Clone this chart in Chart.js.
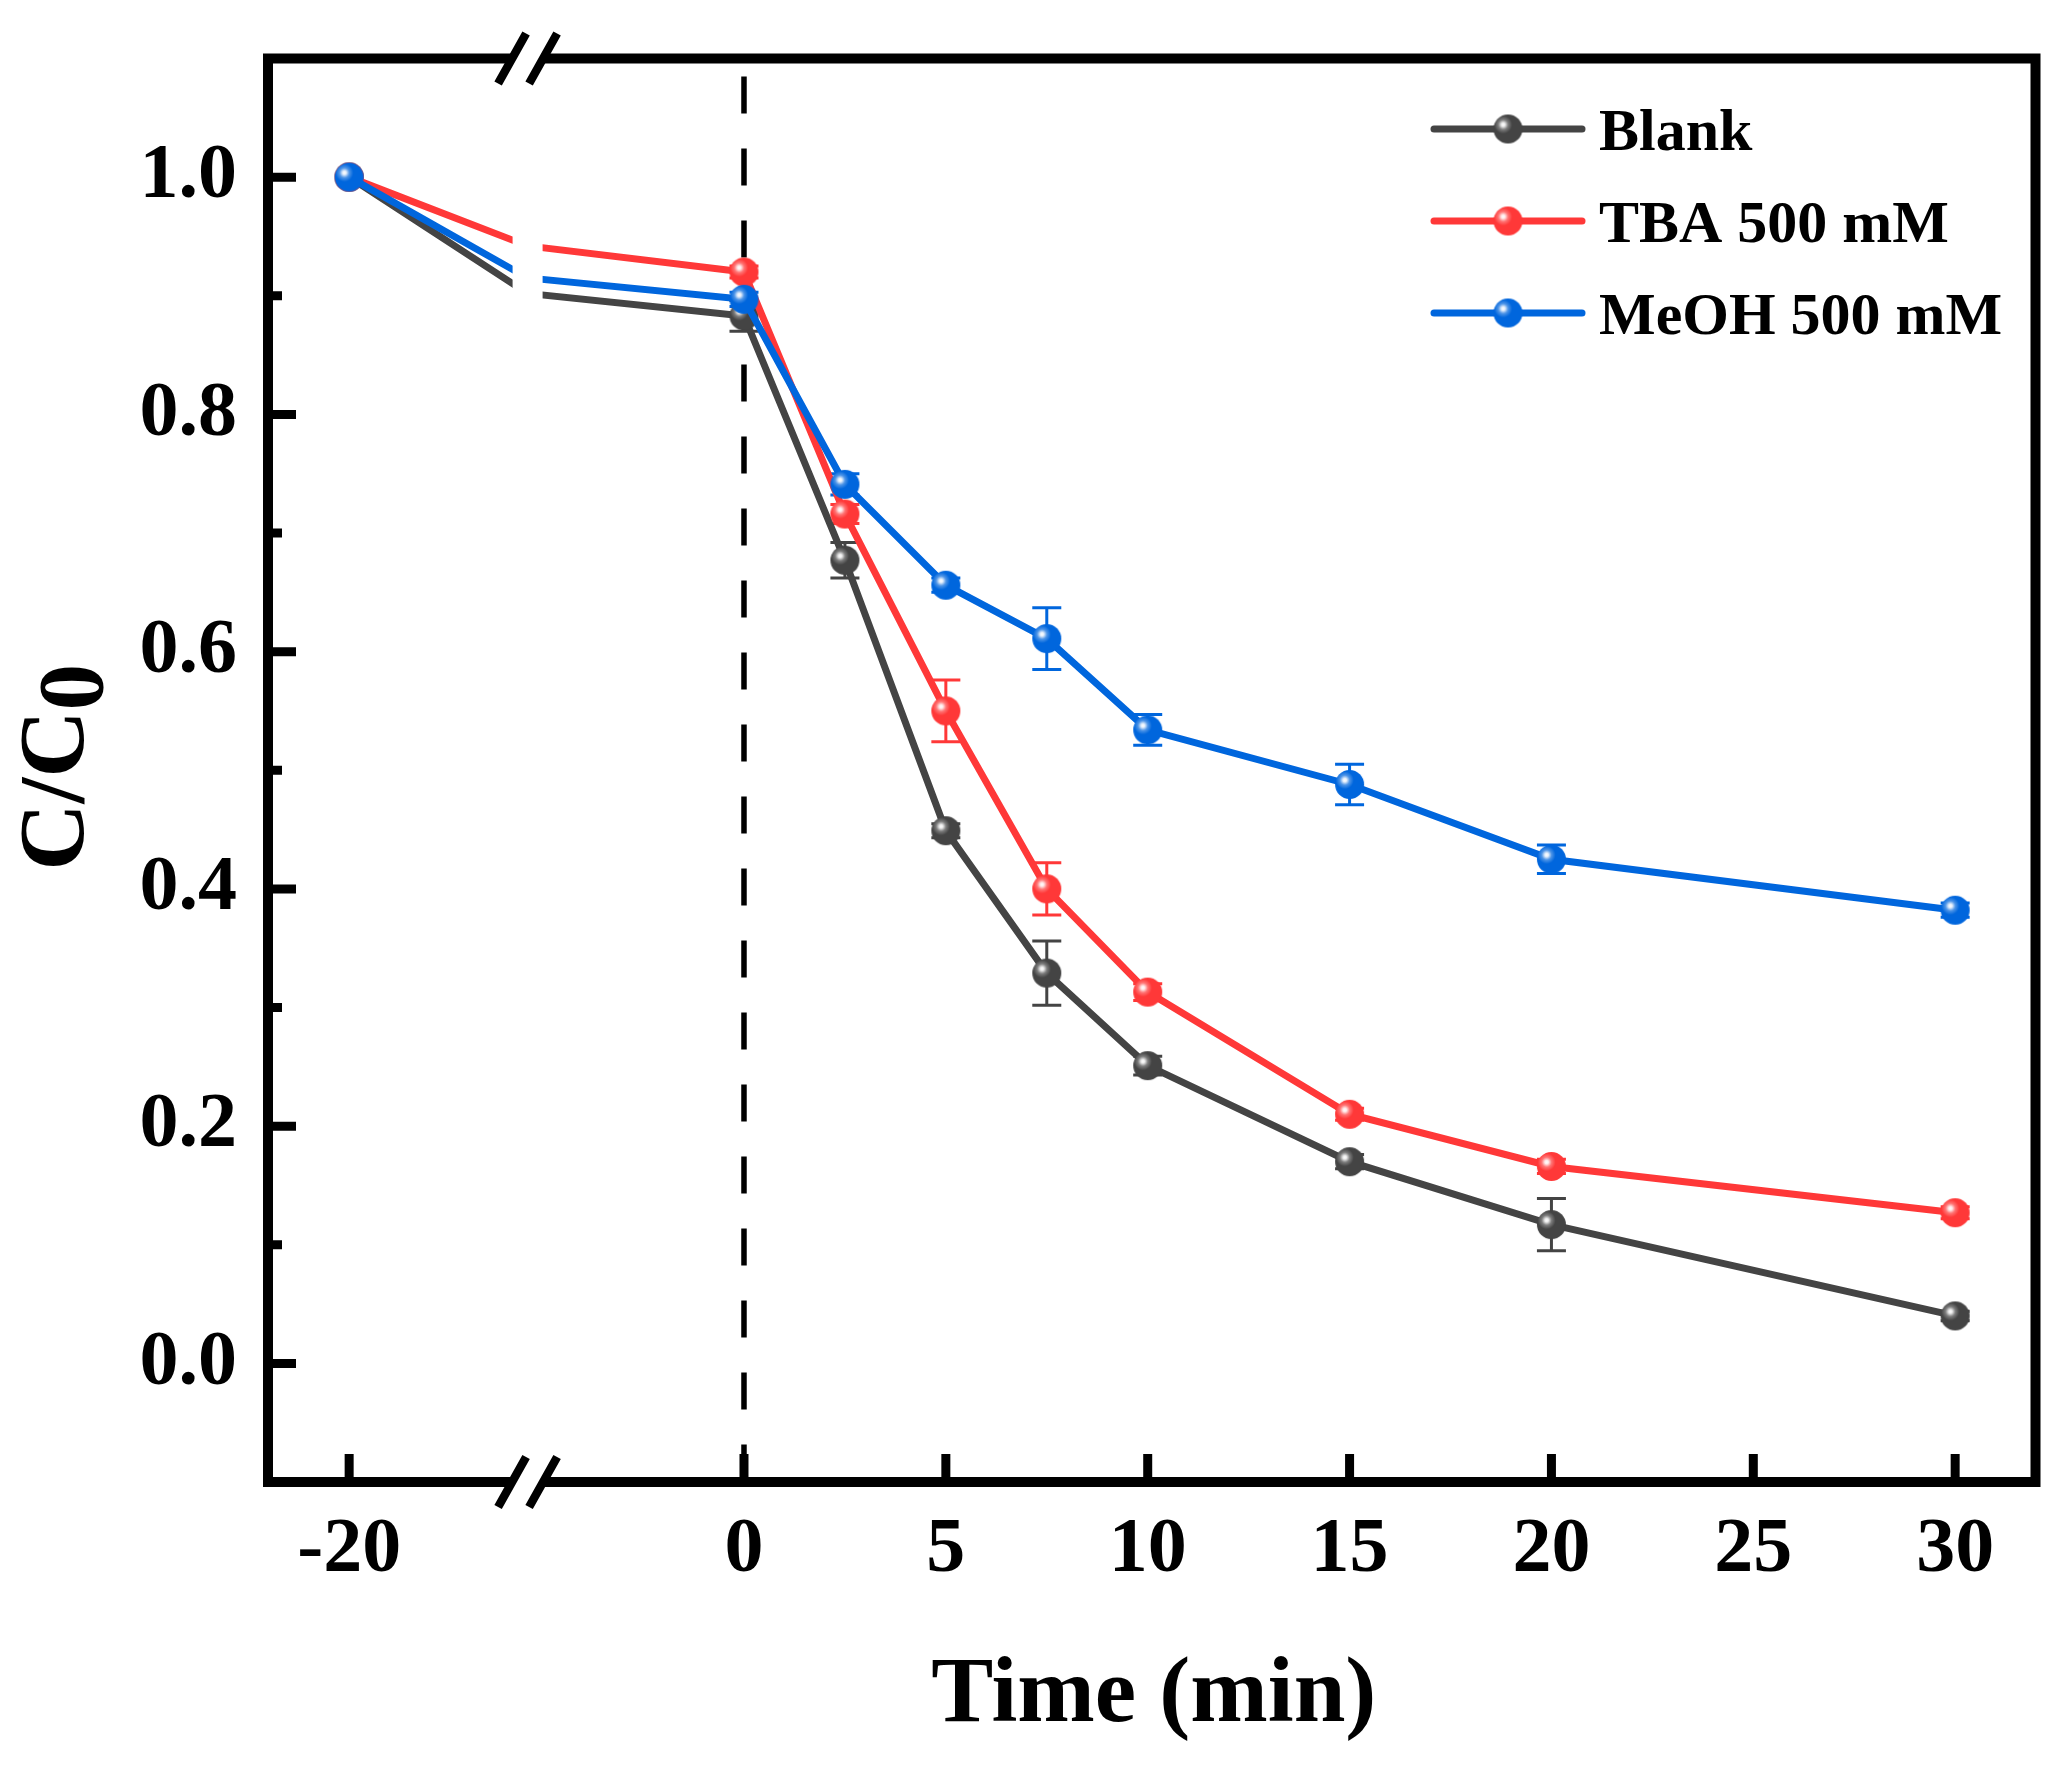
<!DOCTYPE html>
<html><head><meta charset="utf-8">
<script src="https://cdn.jsdelivr.net/npm/chart.js@4.4.1/dist/chart.umd.min.js"></script>
<style>html,body{margin:0;padding:0;background:#fff;}canvas{display:block}</style>
</head><body>
<canvas id="c" width="2058" height="1773" style="width:2058px;height:1773px"></canvas>
<script>
// ---------- data ----------
const timeMin   = [-20, 0, 2.5, 5, 7.5, 10, 15, 20, 30];
const blank     = [1.000, 0.883, 0.677, 0.449, 0.329, 0.251, 0.170, 0.117, 0.040];
const blankErr  = [0, 0.013, 0.015, 0.006, 0.027, 0.008, 0.006, 0.022, 0.004];
const tba       = [1.000, 0.920, 0.716, 0.550, 0.400, 0.313, 0.210, 0.166, 0.127];
const tbaErr    = [0, 0.005, 0.008, 0.026, 0.022, 0.007, 0.005, 0.006, 0.005];
const meoh      = [1.000, 0.897, 0.741, 0.656, 0.611, 0.534, 0.488, 0.425, 0.382];
const meohErr   = [0, 0.006, 0.009, 0.006, 0.026, 0.013, 0.017, 0.012, 0.006];
// line level where each curve crosses the axis break
const blankBreak = 0.902, tbaBreak = 0.942, meohBreak = 0.915;
const seriesNames = ['Blank', 'TBA 500 mM', 'MeOH 500 mM'];
const xTickLabels = [-20, 0, 5, 10, 15, 20, 25, 30];
const yTickValues = [0, 0.2, 0.4, 0.6, 0.8, 1.0];
const yMinorValues = [0.1, 0.3, 0.5, 0.7, 0.9];

// ---------- axis break mapping ----------
const LEFT_FACTOR = 0.489;      // compressed segment left of the break
const BREAK_POS = -5.36;        // axis position of the break
const X_MIN = -11.79, X_MAX = 31.99;
function toAxis(t){ return t >= 0 ? t : t * LEFT_FACTOR; }

const COLORS = ['#444444', '#FF3838', '#0066DD'];
const FONT = '"Liberation Serif", "Times New Roman", serif';

function makeBall(color, r){
  const c = document.createElement('canvas');
  const s = Math.ceil(2*r + 2);
  c.width = s; c.height = s;
  const g = c.getContext('2d');
  const cx = s/2, cy = s/2;
  g.beginPath(); g.arc(cx, cy, r, 0, Math.PI*2); g.fillStyle = color; g.fill();
  const hx = cx - 0.33*r, hy = cy - 0.3*r;
  const grad = g.createRadialGradient(hx, hy, 0, hx, hy, 0.62*r);
  grad.addColorStop(0, 'rgba(255,255,255,1)');
  grad.addColorStop(0.2, 'rgba(255,255,255,0.9)');
  grad.addColorStop(0.55, 'rgba(255,255,255,0.3)');
  grad.addColorStop(1, 'rgba(255,255,255,0)');
  g.beginPath(); g.arc(cx, cy, r, 0, Math.PI*2); g.fillStyle = grad; g.fill();
  return c;
}
const balls = COLORS.map(c => makeBall(c, 14.5));

function build(vals, errs, brk){
  const pts = timeMin.map((t, i) => ({x: toAxis(t), y: vals[i], err: errs[i]}));
  pts.splice(1, 0, {x: BREAK_POS, y: brk, err: 0, hidden: true});
  return pts;
}
const seriesVals = [blank, tba, meoh];
const seriesErrs = [blankErr, tbaErr, meohErr];
const seriesBreaks = [blankBreak, tbaBreak, meohBreak];

const datasets = seriesVals.map((v, k) => ({
  label: seriesNames[k],
  data: build(v, seriesErrs[k], seriesBreaks[k]),
  borderColor: COLORS[k],
  backgroundColor: COLORS[k],
  borderWidth: 7,
  pointRadius: ctx => (ctx.raw && ctx.raw.hidden) ? 0 : 14.5,
  pointStyle: ctx => (ctx.raw && ctx.raw.hidden) ? false : balls[k],
  tension: 0,
  order: 3 - k
}));

// ---------- plugins ----------
const errorBars = {
  id: 'errorBars',
  beforeDatasetsDraw(chart){
    const ctx = chart.ctx, ys = chart.scales.y;
    chart.data.datasets.forEach((ds, k) => {
      const meta = chart.getDatasetMeta(k);
      ctx.save();
      ctx.strokeStyle = ds.borderColor; ctx.lineWidth = 3;
      ds.data.forEach((p, i) => {
        if (!p.err) return;
        const x = meta.data[i].x;
        const y1 = ys.getPixelForValue(p.y + p.err), y2 = ys.getPixelForValue(p.y - p.err);
        ctx.beginPath();
        ctx.moveTo(x, y1); ctx.lineTo(x, y2);
        ctx.moveTo(x - 14.5, y1); ctx.lineTo(x + 14.5, y1);
        ctx.moveTo(x - 14.5, y2); ctx.lineTo(x + 14.5, y2);
        ctx.stroke();
      });
      ctx.restore();
    });
    // dashed line at t = 0
    const xs = chart.scales.x, a = chart.chartArea;
    const x0 = xs.getPixelForValue(toAxis(0));
    ctx.save();
    ctx.strokeStyle = '#000'; ctx.lineWidth = 5.5;
    ctx.setLineDash([37, 35]);
    ctx.beginPath(); ctx.moveTo(x0, a.top + 18); ctx.lineTo(x0, a.bottom); ctx.stroke();
    ctx.restore();
  },
  afterDatasetsDraw(chart){
    const ctx = chart.ctx, a = chart.chartArea;
    const xb = chart.scales.x.getPixelForValue(BREAK_POS);
    ctx.save(); ctx.fillStyle = '#fff';
    ctx.fillRect(xb - 15, a.top + 6, 30, a.bottom - a.top - 12);
    ctx.restore();
  }
};

const frame = {
  id: 'frame',
  afterDraw(chart){
    const ctx = chart.ctx, a = chart.chartArea, xs = chart.scales.x, ys = chart.scales.y;
    ctx.save();
    ctx.strokeStyle = '#000'; ctx.lineWidth = 10; ctx.lineCap = 'butt';
    ctx.strokeRect(a.left, a.top, a.right - a.left, a.bottom - a.top);
    ctx.lineWidth = 9;
    ctx.beginPath();
    yTickValues.forEach(v => { const y = ys.getPixelForValue(v); ctx.moveTo(a.left, y); ctx.lineTo(a.left + 28, y); });
    yMinorValues.forEach(v => { const y = ys.getPixelForValue(v); ctx.moveTo(a.left, y); ctx.lineTo(a.left + 14, y); });
    xTickLabels.forEach(t => { const x = xs.getPixelForValue(toAxis(t)); ctx.moveTo(x, a.bottom); ctx.lineTo(x, a.bottom - 28); });
    ctx.stroke();
    // axis break marks
    const xb = xs.getPixelForValue(BREAK_POS);
    [a.top, a.bottom].forEach(yb => {
      const s1 = xb - 15.5, s2 = xb + 15.5;
      ctx.fillStyle = '#fff';
      ctx.beginPath();
      ctx.moveTo(s1 - 4, yb + 7); ctx.lineTo(s1 + 4, yb - 7);
      ctx.lineTo(s2 + 4, yb - 7); ctx.lineTo(s2 - 4, yb + 7);
      ctx.closePath(); ctx.fill();
      ctx.strokeStyle = '#000'; ctx.lineWidth = 8.5;
      ctx.beginPath();
      [s1, s2].forEach(s => { ctx.moveTo(s - 14, yb + 25); ctx.lineTo(s + 14, yb - 25); });
      ctx.stroke();
    });
    // axis titles
    ctx.fillStyle = '#000';
    ctx.font = 'bold 93px ' + FONT;
    ctx.textBaseline = 'alphabetic';
    ctx.textAlign = 'center';
    ctx.fillText('Time (min)', (a.left + a.right)/2 + 2, 1721);
    ctx.save();
    ctx.translate(83, (a.top + a.bottom)/2 - 3);
    ctx.rotate(-Math.PI/2);
    ctx.textAlign = 'left';
    const wC = ctx.measureText('C/C').width, w0 = ctx.measureText('0').width;
    const st = -(wC + w0)/2;
    ctx.fillText('C/C', st, 0);
    ctx.fillText('0', st + wC, 19);
    ctx.restore();
    // legend
    const rows = [129, 221, 313];
    chart.data.datasets.forEach((ds, k) => {
      const y = rows[k];
      ctx.strokeStyle = ds.borderColor; ctx.lineWidth = 7; ctx.lineCap = 'round';
      ctx.beginPath(); ctx.moveTo(1434, y); ctx.lineTo(1582, y); ctx.stroke();
      const b = balls[k];
      ctx.drawImage(b, 1508 - b.width/2, y - b.height/2);
      ctx.fillStyle = '#000';
      ctx.font = 'bold 60px ' + FONT;
      ctx.textAlign = 'left'; ctx.textBaseline = 'alphabetic';
      ctx.fillText(ds.label, 1599, y + 21);
    });
    ctx.restore();
  }
};

new Chart(document.getElementById('c'), {
  type: 'line',
  data: { datasets },
  options: {
    responsive: false,
    devicePixelRatio: 1,
    animation: false,
    layout: { padding: { top: 58.5, right: 22.5, left: 0, bottom: 0 } },
    plugins: { legend: { display: false }, tooltip: { enabled: false } },
    scales: {
      x: {
        type: 'linear', min: X_MIN, max: X_MAX,
        grid: { display: false, drawTicks: false },
        border: { display: false },
        afterBuildTicks: s => { s.ticks = xTickLabels.map(t => ({ value: toAxis(t) })); },
        afterFit: s => { s.height = 1773 - 1482; s.paddingLeft = 0; s.paddingRight = 0; },
        ticks: {
          autoSkip: false, maxRotation: 0, padding: 22, color: '#000',
          font: { family: FONT, size: 78, weight: 'bold' },
          callback: (v, i) => String(xTickLabels[i])
        }
      },
      y: {
        type: 'linear', min: -0.1, max: 1.1,
        grid: { display: false, drawTicks: false },
        border: { display: false },
        afterBuildTicks: s => { s.ticks = yTickValues.map(v => ({ value: v })); },
        afterFit: s => { s.width = 268; s.paddingTop = 0; s.paddingBottom = 0; },
        ticks: {
          autoSkip: false, padding: 31, color: '#000',
          font: { family: FONT, size: 78, weight: 'bold' },
          callback: v => Number(v).toFixed(1)
        }
      }
    }
  },
  plugins: [errorBars, frame]
});
</script>
</body></html>
